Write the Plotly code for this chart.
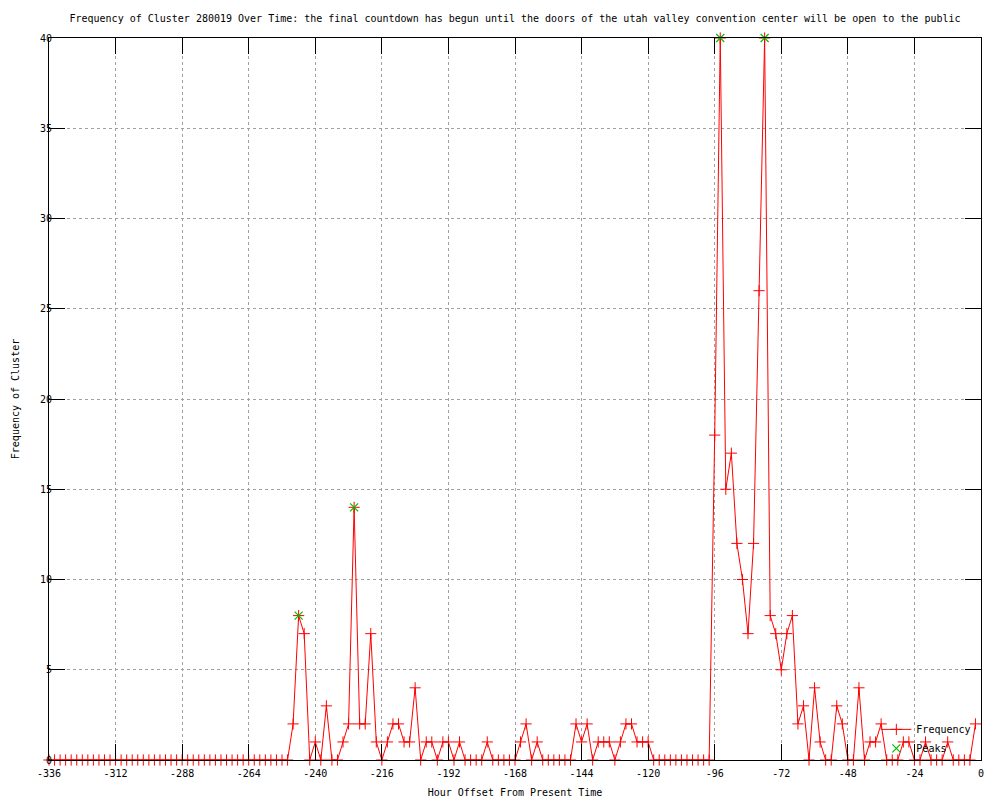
import plotly.graph_objects as go

hours = list(range(-336, 0, 2))
freq = ([0] * 44 +
        [2, 8, 7, 0, 1, 0, 3, 0, 0, 1, 2, 14, 2, 2, 7, 1, 0, 1, 2, 2, 1, 1, 4, 0,
         1, 1, 0, 1, 1, 0, 1, 0, 0, 0, 0, 1, 0, 0, 0, 0, 0, 1, 2, 0, 1, 0, 0, 0,
         0, 0, 0, 2, 1, 2, 0, 1, 1, 1, 0, 1, 2, 2, 1, 1, 1] +
        [0] * 11 +
        [18, 40, 15, 17, 12, 10, 7, 12, 26, 40, 8, 7, 5, 7, 8, 2, 3, 0, 4, 1, 0, 0,
         3, 2, 0, 0, 4, 0, 1, 1, 2, 0, 0, 0, 1, 1, 0, 0, 1, 0, 0, 0, 1, 0, 0, 0, 0, 2])

peak_hours = [-246, -226, -94, -78]
peak_vals = [8, 14, 40, 40]

x_ticks = list(range(-336, 1, 24))
y_ticks = list(range(0, 41, 5))

title_text = ("Frequency of Cluster 280019 Over Time: the final countdown has begun "
              "until the doors of the utah valley convention center will be open to the public")

FONT = "DejaVu Sans Mono"

fig = go.Figure()
fig.add_trace(go.Scatter(
    x=hours, y=freq, mode="lines+markers", name="Frequency",
    line=dict(color="#ff0000", width=1),
    marker=dict(symbol="cross-thin", size=8, color="#ff0000",
                line=dict(color="#ff0000", width=1)),
    cliponaxis=False,
))
fig.add_trace(go.Scatter(
    x=peak_hours, y=peak_vals, mode="markers", name="Peaks",
    marker=dict(symbol="x-thin", size=8, color="#00c000",
                line=dict(color="#00c000", width=1.2)),
    cliponaxis=False,
))

axis_common = dict(
    showline=True, linecolor="black", linewidth=1, mirror="ticks",
    ticks="inside", ticklen=16, tickcolor="black", tickwidth=1,
    showgrid=True, gridcolor="#a0a0a0", griddash="dot", gridwidth=1,
    zeroline=False, automargin=False,
    tickfont=dict(family=FONT, size=10, color="black"),
)

fig.update_layout(
    width=1000, height=800,
    margin=dict(l=41, r=27, t=30, b=48),
    paper_bgcolor="white", plot_bgcolor="white",
    font=dict(family=FONT, size=10, color="black"),
    title=dict(text=title_text, x=0.507, xanchor="center", y=1 - 10 / 800,
               yanchor="middle", font=dict(family=FONT, size=10, color="black")),
    xaxis=dict(range=[-336, 0], tickvals=x_ticks, ticktext=[str(v) for v in x_ticks],
               ticklabelstandoff=4,
               title=dict(text="Hour Offset From Present Time", standoff=10,
                          font=dict(family=FONT, size=10)),
               **axis_common),
    yaxis=dict(range=[0, 40], tickvals=y_ticks, ticktext=[str(v) for v in y_ticks],
               ticklabelstandoff=-6,
               title=dict(text="Frequency of Cluster", standoff=18,
                          font=dict(family=FONT, size=10)),
               **axis_common),
    legend=dict(x=0.995, y=-0.004, xanchor="right", yanchor="bottom",
                bgcolor="rgba(0,0,0,0)", font=dict(family=FONT, size=10),
                tracegroupgap=0, itemwidth=30),
    showlegend=True,
)

fig.write_html("out.html")
